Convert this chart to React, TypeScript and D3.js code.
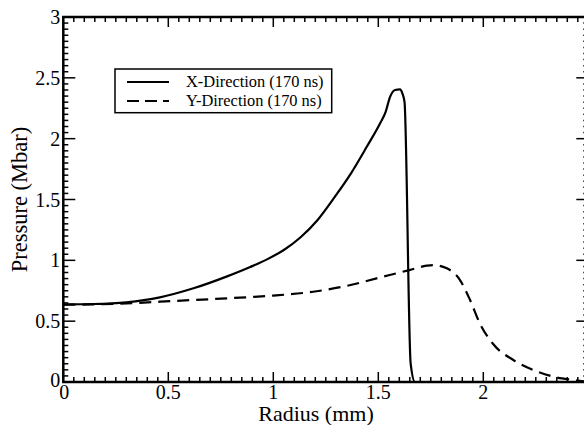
import React from "react";
import * as d3 from "d3";

const radiusX = [0, 0.14, 0.3, 0.46, 0.62, 0.78, 0.89, 0.97, 1.05, 1.13, 1.21, 1.29, 1.37, 1.445, 1.51, 1.535, 1.556, 1.58, 1.603, 1.615, 1.625, 1.654, 1.675, 2.5];
const pressureX = [0.638, 0.641, 0.655, 0.696, 0.77, 0.868, 0.945, 1.008, 1.085, 1.19, 1.33, 1.515, 1.715, 1.933, 2.13, 2.22, 2.344, 2.4, 2.405, 2.37, 2.3, 0.154, 0, 0];

const radiusY = [0, 0.3, 0.46, 0.78, 1.0, 1.19, 1.35, 1.492, 1.648, 1.73, 1.76, 1.826, 1.889, 1.937, 1.984, 2.048, 2.143, 2.238, 2.333, 2.43, 2.5];
const pressureY = [0.635, 0.645, 0.66, 0.688, 0.71, 0.742, 0.79, 0.852, 0.92, 0.956, 0.961, 0.934, 0.838, 0.674, 0.48, 0.31, 0.181, 0.099, 0.044, 0.016, 0.0];

const xTicks = [0, 0.5, 1, 1.5, 2];
const xTickLabels = ["0", "0.5", "1", "1.5", "2"];
const yTicks = [0, 0.5, 1, 1.5, 2, 2.5, 3];
const yTickLabels = ["0", "0.5", "1", "1.5", "2", "2.5", "3"];
const seriesNames = ["X-Direction (170 ns)", "Y-Direction (170 ns)"];

const W = 584;
const H = 425;
const FONT = '"Liberation Serif", "DejaVu Serif", serif';

export default function App() {
  const x = d3.scaleLinear().domain([0, 2.5]).range([63.3, 588.3]);
  const y = d3.scaleLinear().domain([0, 3]).range([382, 17]);
  const line = d3
    .line<[number, number]>()
    .x((d) => x(d[0]))
    .y((d) => y(d[1]))
    .curve(d3.curveMonotoneX);
  const dX = line(radiusX.map((r, i) => [r, pressureX[i]]) as [number, number][]) || "";
  const dY = line(radiusY.map((r, i) => [r, pressureY[i]]) as [number, number][]) || "";

  const xMinor = d3.range(0, 2.5001, 0.05).filter((v) => Math.abs(v * 2 - Math.round(v * 2)) > 1e-6);
  const yMinor = d3.range(0, 3.0001, 0.05).filter((v) => Math.abs(v * 2 - Math.round(v * 2)) > 1e-6);
  const x0 = x(0), x1 = x(2.5), y0 = y(0), y1 = y(3);

  return (
    <div style={{ position: "absolute", left: 0, top: 0 }}>
      <svg width={W} height={H} style={{ display: "block", background: "#fff", fontFamily: FONT }}>
        <rect x={0} y={0} width={W} height={H} fill="#fff" />
        <g stroke="#000" strokeWidth={1.5}>
          {xMinor.map((v, i) => (
            <g key={"xm" + i}>
              <line x1={x(v)} x2={x(v)} y1={y0} y2={y0 - 5} />
              <line x1={x(v)} x2={x(v)} y1={y1} y2={y1 + 5} />
            </g>
          ))}
          {xTicks.map((v, i) => (
            <g key={"xM" + i}>
              <line x1={x(v)} x2={x(v)} y1={y0} y2={y0 - 10} />
              <line x1={x(v)} x2={x(v)} y1={y1} y2={y1 + 10} />
            </g>
          ))}
          {yMinor.map((v, i) => (
            <g key={"ym" + i}>
              <line x1={x0} x2={x0 + 5} y1={y(v)} y2={y(v)} />
              <line x1={x1} x2={x1 - 5} y1={y(v)} y2={y(v)} />
            </g>
          ))}
          {yTicks.map((v, i) => (
            <g key={"yM" + i}>
              <line x1={x0} x2={x0 + 12} y1={y(v)} y2={y(v)} />
              <line x1={x1} x2={x1 - 12} y1={y(v)} y2={y(v)} />
            </g>
          ))}
        </g>
        <path d={dY} fill="none" stroke="#000" strokeWidth={2.2} strokeDasharray="12 7" />
        <path d={dX} fill="none" stroke="#000" strokeWidth={2.2} />
        <rect x={x0} y={y1} width={x1 - x0} height={y0 - y1} fill="none" stroke="#000" strokeWidth={2.5} />
        {xTicks.map((v, i) => (
          <text key={"xl" + i} x={x(v) + (i === 0 ? 1 : 0)} y={y0 + 17} textAnchor="middle" fontSize={20}>
            {xTickLabels[i]}
          </text>
        ))}
        {yTicks.map((v, i) => (
          <text key={"yl" + i} x={x0 - 3} y={y(v) - (i === 0 ? 2 : 0)} dy="0.35em" textAnchor="end" fontSize={20}>
            {yTickLabels[i]}
          </text>
        ))}
        <text x={316} y={420.5} textAnchor="middle" fontSize={22}>
          Radius (mm)
        </text>
        <text transform={`translate(27, ${(y0 + y1) / 2}) rotate(-90)`} textAnchor="middle" fontSize={22.5}>
          Pressure (Mbar)
        </text>
        <rect x={115} y={69} width={216.7} height={43.7} fill="#fff" stroke="#000" strokeWidth={1.5} />
        <line x1={127} x2={169} y1={82} y2={82} stroke="#000" strokeWidth={2.2} />
        <line x1={127} x2={169} y1={101} y2={101} stroke="#000" strokeWidth={2.2} strokeDasharray="12 6" />
        <text x={186} y={87} fontSize={16.4}>{seriesNames[0]}</text>
        <text x={186} y={106} fontSize={16.4}>{seriesNames[1]}</text>
      </svg>
    </div>
  );
}
